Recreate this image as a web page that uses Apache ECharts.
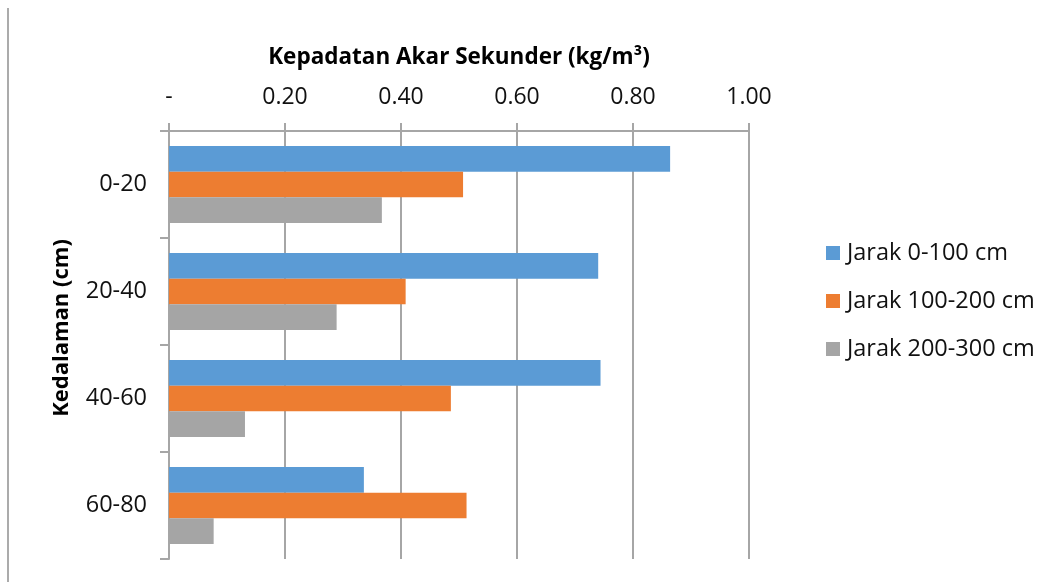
<!DOCTYPE html>
<html>
<head>
<meta charset="utf-8">
<script src="https://cdn.jsdelivr.net/npm/echarts@6/dist/echarts.min.js"></script>
<style>html,body{margin:0;padding:0;background:#fff;}#chart{width:1045px;height:582px;}</style>
</head>
<body>
<div id="chart"></div>
<script>
const categories = ['0-20', '20-40', '40-60', '60-80'];
const seriesNames = ['Jarak 0-100 cm', 'Jarak 100-200 cm', 'Jarak 200-300 cm'];
const jarak0_100 = [0.864, 0.740, 0.744, 0.336];
const jarak100_200 = [0.507, 0.408, 0.486, 0.513];
const jarak200_300 = [0.367, 0.289, 0.131, 0.077];
const xTicks = [0, 0.2, 0.4, 0.6, 0.8, 1.0];

const colors = ['#5B9BD5', '#ED7D31', '#A5A5A5'];
const font = '"Open Sans", sans-serif';
const chart = echarts.init(document.getElementById('chart'));
const dataSets = [jarak0_100, jarak100_200, jarak200_300];

chart.setOption({
  animation: false,
  color: colors,
  grid: { left: 169, right: 296, top: 131, bottom: 23, containLabel: false },
  legend: {
    orient: 'vertical',
    left: 821,
    top: 236,
    itemWidth: 14,
    itemHeight: 14,
    itemGap: 24,
    icon: 'rect',
    data: seriesNames,
    textStyle: { fontFamily: font, fontSize: 23.5, color: '#111', padding: [0, 0, 0, 2] }
  },
  graphic: [{
    type: 'line',
    shape: { x1: 8, y1: 8, x2: 8, y2: 582 },
    style: { stroke: '#ABABAB', lineWidth: 2 }
  }],
  xAxis: {
    type: 'value',
    position: 'top',
    min: xTicks[0],
    max: xTicks[xTicks.length - 1],
    interval: 0.2,
    name: 'Kepadatan Akar Sekunder (kg/m³)',
    nameLocation: 'middle',
    nameGap: 62,
    nameTextStyle: { fontFamily: font, fontSize: 22.5, fontWeight: 'bold', color: '#000' },
    axisLine: { show: true, lineStyle: { color: '#A6A6A6', width: 2 } },
    axisTick: { show: true, length: 8, lineStyle: { color: '#A6A6A6', width: 2 } },
    splitLine: { show: true, lineStyle: { color: '#A6A6A6', width: 2 } },
    axisLabel: {
      fontFamily: font, fontSize: 23, color: '#111', margin: 22,
      formatter: function (v) { return v === 0 ? '-' : v.toFixed(2); }
    }
  },
  yAxis: {
    type: 'category',
    inverse: true,
    data: categories,
    name: 'Kedalaman (cm)',
    nameLocation: 'middle',
    nameGap: 96,
    nameTextStyle: { fontFamily: font, fontSize: 22, fontWeight: 'bold', color: '#000', padding: [0, 0, 0, 34] },
    axisLine: { show: true, lineStyle: { color: '#A6A6A6', width: 2 } },
    axisTick: { show: true, length: 9, lineStyle: { color: '#A6A6A6', width: 2 } },
    splitLine: { show: false },
    axisLabel: { fontFamily: font, fontSize: 23.5, color: '#111', margin: 22 }
  },
  series: dataSets.map(function (d, i) {
    return {
      name: seriesNames[i],
      type: 'bar',
      data: d,
      barGap: '0%',
      barCategoryGap: '28%',
      itemStyle: { color: colors[i] }
    };
  })
});
</script>
</body>
</html>
